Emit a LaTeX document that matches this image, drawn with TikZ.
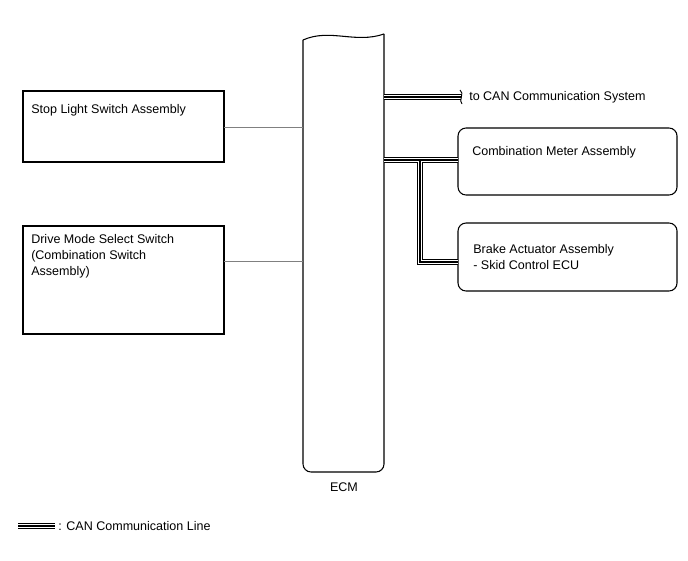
\documentclass[tikz,border=0pt]{standalone}
\usepackage{fontspec}
\setmainfont{Liberation Sans}
\begin{document}
\begin{tikzpicture}[x=0.75pt,y=-0.75pt,
  box/.style={draw,line width=0.8pt,inner sep=0pt},
  rbox/.style={box,rounded corners=6pt},
  lbl/.style={anchor=north west,inner sep=0pt,font=\fontsize{9.4}{12}\selectfont,align=left},
  thin/.style={draw=gray,line width=0.6pt},
  canA/.style={line width=5pt,black},
  canB/.style={line width=3pt,white},
  canC/.style={line width=1.2pt,black}]
\useasboundingbox (0,0) rectangle (688,560);
% left boxes
\draw[box] (23,91) rectangle (224,162);
\node[lbl] (sls) at (31,104) {Stop Light Switch Assembly};
\coordinate (slsR) at (224,127);
\draw[box] (23,226) rectangle (224,334);
\node[lbl] (dms) at (31,234) {Drive Mode Select Switch\\(Combination Switch\\Assembly)};
\coordinate (dmsR) at (224,261);
% ECM
\draw[line width=0.8pt,rounded corners=6pt] (384,34) -- (384,472) -- (303,472) -- (303,40);
\draw[line width=0.8pt] (303,40) .. controls (330,28) and (355,44) .. (384,34);
\node[font=\fontsize{9.4}{12}\selectfont] (ecm) at (344,487) {ECM};
\draw[thin] (slsR) -- (303,127);
\draw[thin] (dmsR) -- (303,261);
% right boxes
\draw[rbox] (458,128) rectangle (677,195);
\node[lbl] (cma) at (472,146) {Combination Meter Assembly};
\draw[rbox] (458,223) rectangle (677,291);
\node[lbl] (baa) at (473,244) {Brake Actuator Assembly\\- Skid Control ECU};
% CAN lines
\foreach \s in {canA,canB,canC}{
  \draw[\s] (384,97) -- (462,97);
  \draw[\s] (384,160) -- (458,160);
  \draw[\s,line join=miter] (420,160) -- (420,262) -- (458,262);
}
\fill[white] (461,90) rectangle (466,105);
\draw[line width=0.7pt] (460,90) .. controls (465,93) and (458,101) .. (462,104);
\node[lbl] (to) at (469,91) {to CAN Communication System};
% legend
\foreach \s in {canA,canB,canC} \draw[\s] (18,526) -- (55,526);
\node[anchor=west,inner sep=0pt,font=\fontsize{9.4}{12}\selectfont] (leg) at (58,526) {: CAN Communication Line};
\end{tikzpicture}
\end{document}
